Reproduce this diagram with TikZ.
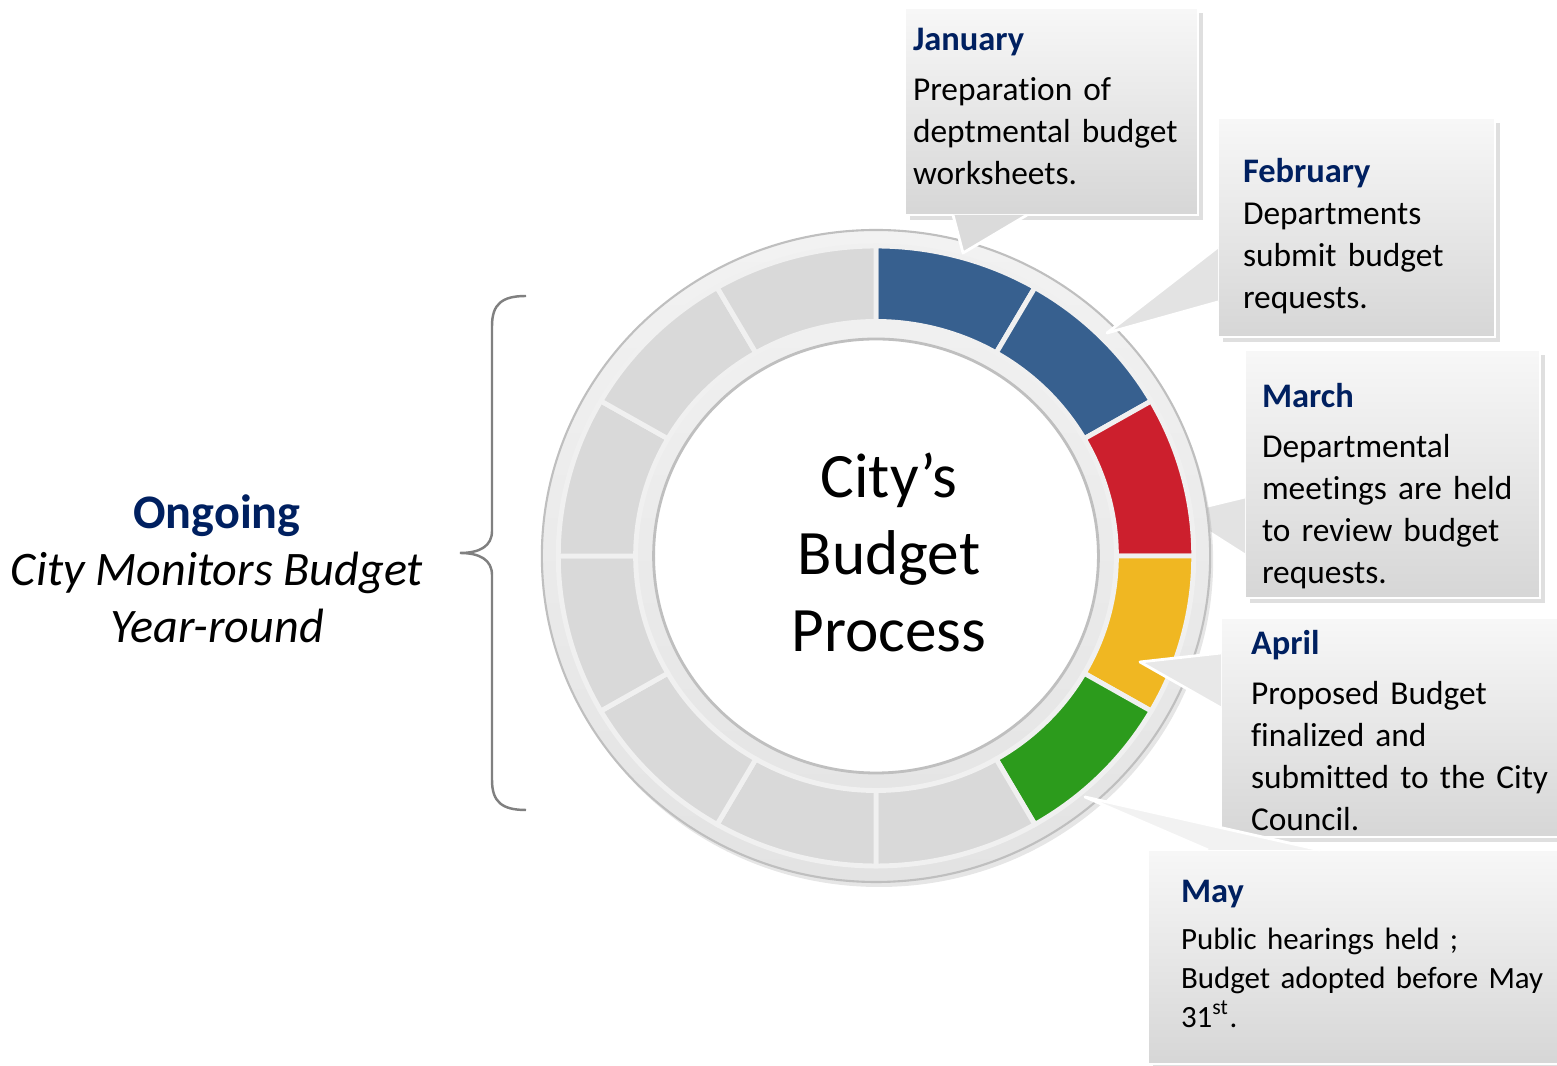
\documentclass[tikz,border=0pt]{standalone}
\usepackage{fontspec}
\setmainfont{Carlito}[Ligatures = NoCommon]
\usetikzlibrary{shadows}

\definecolor{monthblue}{HTML}{002060}
\definecolor{segblue}{HTML}{37608F}
\definecolor{segred}{HTML}{CC1F2D}
\definecolor{segyellow}{HTML}{F0B722}
\definecolor{seggreen}{HTML}{2C9B1C}
\definecolor{seggray}{HTML}{D9D9D9}
\definecolor{ringband}{HTML}{F0F0F0}
\definecolor{ringedge}{HTML}{BFBFBF}

\newcommand{\monthname}[1]{{\fontsize{9.8}{11.95}\selectfont\bfseries\textcolor{monthblue}{#1}}}

\tikzset{
	box/.style = {rectangle, anchor = north west, outer sep = 0pt, inner ysep = 0.05cm, align = left,
		draw = white, line width = 0.8pt, top color = white!97!black, bottom color = white!84!black,
		drop shadow = {opacity = 0.25, shadow xshift = 0.05cm, shadow yshift = -0.05cm},
		font = \fontsize{9.5}{11.95}\selectfont},
	pointer/.style = {fill = #1, draw = white, line width = 0.8pt, line join = round},
	seg/.style = {fill = #1, draw = ringband, line width = 1.4pt}
}

\begin{document}
\begin{tikzpicture}

	\useasboundingbox (0, 0) rectangle (15.57, 10.66);

	% March callout, its pointer runs under the ring
	
	\node [box, minimum width = 2.95cm, minimum height = 2.48cm, text width = 2.61cm, inner xsep = 0.17cm] (mar) at (12.45, 7.16)
		{\rule{0pt}{13.8pt}\monthname{March}\\[2.3pt] Departmental\\ meetings are held\\ to review budget\\ requests.};
	\coordinate (martip) at (11.79, 5.53);
	\filldraw [pointer = black!11] ([yshift = -1.47cm]mar.north west) -- (martip) -- ([yshift = -2.05cm]mar.north west);
	
	% Ring of months
	
	\begin{scope}[shift = {(8.76, 5.10)}, xscale = 1.025]
	
		\draw [top color = white!95!black, bottom color = white!89!black, draw = ringedge, line width = 0.6pt,
			drop shadow = {opacity = 0.2, shadow xshift = 0.03cm, shadow yshift = -0.05cm}] (0, 0) circle (3.26);
		
		\draw [seg = segblue] (90:3.1) arc (90:60:3.1) -- (60:2.345) arc (60:90:2.345) -- cycle;
		\draw [seg = segblue] (60:3.1) arc (60:30:3.1) -- (30:2.345) arc (30:60:2.345) -- cycle;
		\draw [seg = segred] (30:3.1) arc (30:0:3.1) -- (0:2.345) arc (0:30:2.345) -- cycle;
		\draw [seg = segyellow] (0:3.1) arc (0:-30:3.1) -- (-30:2.345) arc (-30:0:2.345) -- cycle;
		\draw [seg = seggreen] (-30:3.1) arc (-30:-60:3.1) -- (-60:2.345) arc (-60:-30:2.345) -- cycle;
		\draw [seg = seggray] (-60:3.1) arc (-60:-90:3.1) -- (-90:2.345) arc (-90:-60:2.345) -- cycle;
		\draw [seg = seggray] (-90:3.1) arc (-90:-120:3.1) -- (-120:2.345) arc (-120:-90:2.345) -- cycle;
		\draw [seg = seggray] (-120:3.1) arc (-120:-150:3.1) -- (-150:2.345) arc (-150:-120:2.345) -- cycle;
		\draw [seg = seggray] (-150:3.1) arc (-150:-180:3.1) -- (-180:2.345) arc (-180:-150:2.345) -- cycle;
		\draw [seg = seggray] (180:3.1) arc (180:150:3.1) -- (150:2.345) arc (150:180:2.345) -- cycle;
		\draw [seg = seggray] (150:3.1) arc (150:120:3.1) -- (120:2.345) arc (120:150:2.345) -- cycle;
		\draw [seg = seggray] (120:3.1) arc (120:90:3.1) -- (90:2.345) arc (90:120:2.345) -- cycle;
		
		\draw [fill = white, draw = ringedge, line width = 0.8pt] (0, 0) circle (2.17);
	
	\end{scope}
	
	\node [align = center, font = \fontsize{18}{21.9}\selectfont] (process) at (8.89, 5.14) {City’s\\ Budget\\ Process};
	
	% Ongoing side note
	
	\node [align = center, font = \fontsize{13.7}{16.2}\selectfont] (ongoing) at (2.17, 4.97)
		{\textcolor{monthblue}{\textbf{Ongoing}}\\ \textit{City Monitors Budget}\\ \textit{Year-round}};
	\draw [gray, line width = 0.7pt] (5.26, 7.70) .. controls (5.02, 7.70) and (4.92, 7.62) .. (4.92, 7.40) -- (4.92, 5.35)
		.. controls (4.92, 5.20) and (4.80, 5.13) .. (4.60, 5.13) .. controls (4.80, 5.13) and (4.92, 5.06) .. (4.92, 4.91)
		-- (4.92, 2.86) .. controls (4.92, 2.64) and (5.02, 2.56) .. (5.26, 2.56);
	
	% Month callouts
	
	\node [box, minimum width = 2.93cm, minimum height = 2.07cm, text width = 2.77cm, inner xsep = 0.08cm] (jan) at (9.05, 10.58)
		{\monthname{January}\\[2.3pt] Preparation of\\ deptmental budget\\ worksheets.\rule[-3pt]{0pt}{3pt}};
	\coordinate (jantip) at (9.63, 8.13);
	\filldraw [pointer = black!14] ([xshift = 0.48cm]jan.south west) -- (jantip) -- ([xshift = 1.22cm]jan.south west);
	
	\node [box, minimum width = 2.77cm, minimum height = 2.19cm, text width = 2.27cm, inner xsep = 0.25cm] (feb) at (12.18, 9.48)
		{\rule{0pt}{11.9pt}\monthname{February}\\ Departments\\ submit budget\\ requests.};
	\coordinate (febtip) at (11.07, 7.33);
	\filldraw [pointer = black!11] ([yshift = -1.29cm]feb.north west) -- (febtip) -- ([yshift = -1.84cm]feb.north west);
	
	\node [box, minimum width = 3.69cm, minimum height = 2.19cm, text width = 3.09cm, inner xsep = 0.30cm] (apr) at (12.21, 4.48)
		{\rule{0pt}{8.6pt}\monthname{April}\\[2.3pt] Proposed Budget\\ finalized and\\ submitted to the City\\ Council.};
	\coordinate (aprtip) at (11.40, 4.04);
	\filldraw [pointer = black!9] ([yshift = -0.35cm]apr.north west) -- (aprtip) -- ([yshift = -0.90cm]apr.north west);
	
	\node [box, minimum width = 4.42cm, minimum height = 2.14cm, text width = 3.76cm, inner xsep = 0.33cm,
		font = \fontsize{8.8}{11.1}\selectfont] (may) at (11.48, 2.16)
		{\monthname{May}\\[2.3pt] Public hearings held ;\\ Budget adopted before May\\ 31\textsuperscript{st}.\rule[-1.8pt]{0pt}{1.8pt}};
	\coordinate (maytip) at (10.85, 2.69);
	\filldraw [pointer = black!5] ([xshift = 0.60cm]may.north west) -- (maytip) -- ([xshift = 1.72cm]may.north west);

\end{tikzpicture}
\end{document}
